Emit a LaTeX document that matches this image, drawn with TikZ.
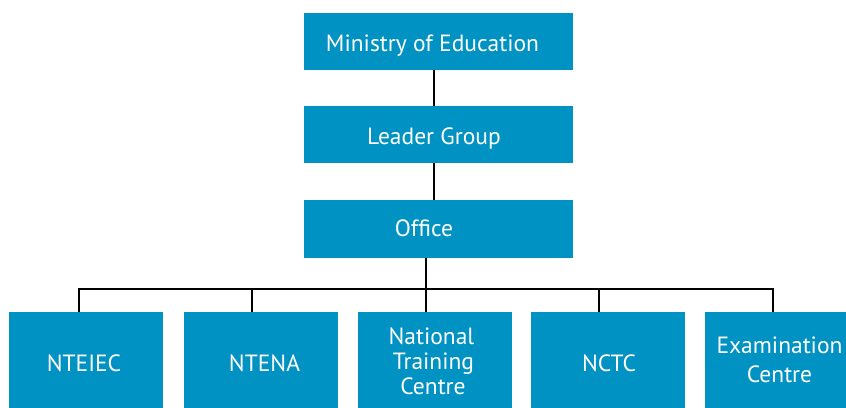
\documentclass[tikz,border=0pt]{standalone}
\usepackage{fontspec}
\setmainfont{PT Sans}
\definecolor{boxblue}{RGB}{0,146,194}
\begin{document}
\begin{tikzpicture}[x=1pt,y=-1pt,
  box/.style={fill=boxblue, inner sep=0pt, outer sep=0pt},
  wide/.style={box, minimum width=269pt, minimum height=57pt},
  low/.style={box, minimum height=102pt},
  txt/.style={text=white, inner sep=0pt, anchor=base, font=\fontsize{23.5}{25}\selectfont},
  conn/.style={draw=black, line width=2pt}]
\useasboundingbox (0,0) rectangle (846,407);
% boxes
\node[wide] (min) at (438.5,41.5) {};
\node[wide] (lead) at (438.5,134.5) {};
\node[wide, minimum height=58pt] (off) at (438.5,229) {};
\node[low, minimum width=154pt] (b1) at (86,363) {};
\node[low, minimum width=154pt] (b2) at (261,363) {};
\node[low, minimum width=154pt] (b3) at (435,363) {};
\node[low, minimum width=154pt] (b4) at (608,363) {};
\node[low, minimum width=144pt] (b5) at (777,363) {};
% texts
\node[txt] (tmin) at (432.5,51.7) {Ministry of Education};
\node[txt] (tlead) at (434,144.3) {Leader Group};
\node[txt] (toff) at (424,236.7) {Office};
\node[txt] (tb1) at (84,371.7) {NTEIEC};
\node[txt] (tb2) at (264.5,371.7) {NTENA};
\node[txt] (tb3a) at (431.5,344) {National};
\node[txt] (tb3b) at (433.5,369.5) {Training};
\node[txt] (tb3c) at (433,394) {Centre};
\node[txt] (tb4) at (609,371.7) {NCTC};
\node[txt] (tb5a) at (779.5,353.3) {Examination};
\node[txt] (tb5b) at (779.5,382.7) {Centre};
% connectors
\coordinate (d1) at (79,289);
\coordinate (d2) at (252,289);
\coordinate (d3) at (426,289);
\coordinate (d4) at (599,289);
\coordinate (d5) at (773,289);
\draw[conn] ([xshift=-4.5pt]min.south) -- ([xshift=-4.5pt]lead.north);
\draw[conn] ([xshift=-4.5pt]lead.south) -- ([xshift=-4.5pt]off.north);
\draw[conn] (off.south -| d3) -- (d3);
\draw[conn] ([xshift=-1pt]d1) -- ([xshift=1pt]d5);
\draw[conn] (d1) -- (d1 |- b1.north);
\draw[conn] (d2) -- (d2 |- b2.north);
\draw[conn] (d3) -- (d3 |- b3.north);
\draw[conn] (d4) -- (d4 |- b4.north);
\draw[conn] (d5) -- (d5 |- b5.north);
\end{tikzpicture}
\end{document}
